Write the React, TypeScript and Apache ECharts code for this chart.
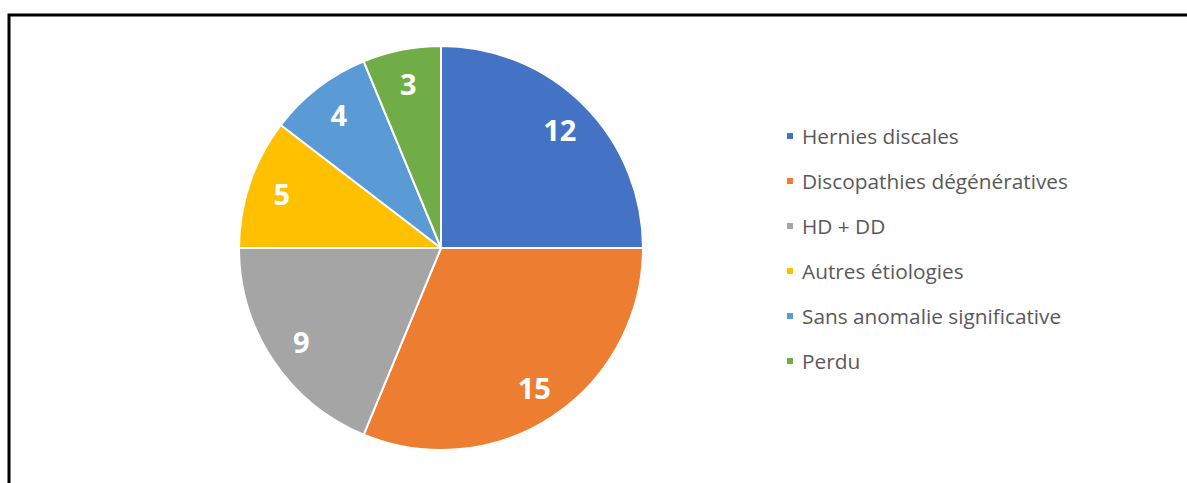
import React, { useEffect, useRef } from "react";
import * as echarts from "echarts";

const categories = [
  "Hernies discales",
  "Discopathies dégénératives",
  "HD + DD",
  "Autres étiologies",
  "Sans anomalie significative",
  "Perdu",
];
const values = [12, 15, 9, 5, 4, 3];
const colors = ["#4472C4", "#ED7D31", "#A5A5A5", "#FFC000", "#5B9BD5", "#70AD47"];

export default function App() {
  const ref = useRef<HTMLDivElement>(null);
  useEffect(() => {
    document.body.style.margin = "0";
    if (!ref.current) return;
    const chart = echarts.init(ref.current, null, { renderer: "svg" });
    const data = categories.map((name, i) => ({
      name,
      value: values[i],
      itemStyle: { color: colors[i] },
    }));
    chart.setOption({
      animation: false,
      backgroundColor: "#ffffff",
      legend: {
        orient: "vertical",
        left: 785,
        top: 125,
        padding: 0,
        itemWidth: 8,
        itemHeight: 8,
        itemGap: 23,
        icon: "rect",
        data: categories.map((name, i) => ({ name, itemStyle: { color: colors[i] } })),
        textStyle: {
          fontFamily: "Open Sans",
          fontSize: 20.8,
          color: "#595959",
          lineHeight: 22,
          padding: [0, 0, 0, 3],
        },
      },
      graphic: [
        {
          type: "polyline",
          shape: { points: [[9, 490], [9, 15], [1200, 15]] },
          style: { stroke: "#000", lineWidth: 3, fill: "none" },
          silent: true,
        },
      ],
      series: [
        {
          type: "pie",
          center: [441, 248],
          radius: [0, 202],
          startAngle: 90,
          clockwise: true,
          label: { show: false },
          labelLine: { show: false },
          itemStyle: { borderColor: "#ffffff", borderWidth: 2 },
          emphasis: { disabled: true },
          silent: true,
          data,
        },
        {
          type: "pie",
          center: [441, 248],
          radius: [128, 202],
          startAngle: 90,
          clockwise: true,
          silent: true,
          emphasis: { disabled: true },
          itemStyle: { color: "transparent", borderWidth: 0 },
          labelLine: { show: false },
          label: {
            show: true,
            position: "inside",
            formatter: "{c}",
            color: "#ffffff",
            fontFamily: "Open Sans",
            fontWeight: "bold",
            fontSize: 29,
          },
          data: categories.map((name, i) => ({
            name,
            value: values[i],
            itemStyle: { color: "transparent" },
          })),
        },
      ],
    });
    return () => chart.dispose();
  }, []);
  return <div ref={ref} style={{ width: 1187, height: 483 }} />;
}
